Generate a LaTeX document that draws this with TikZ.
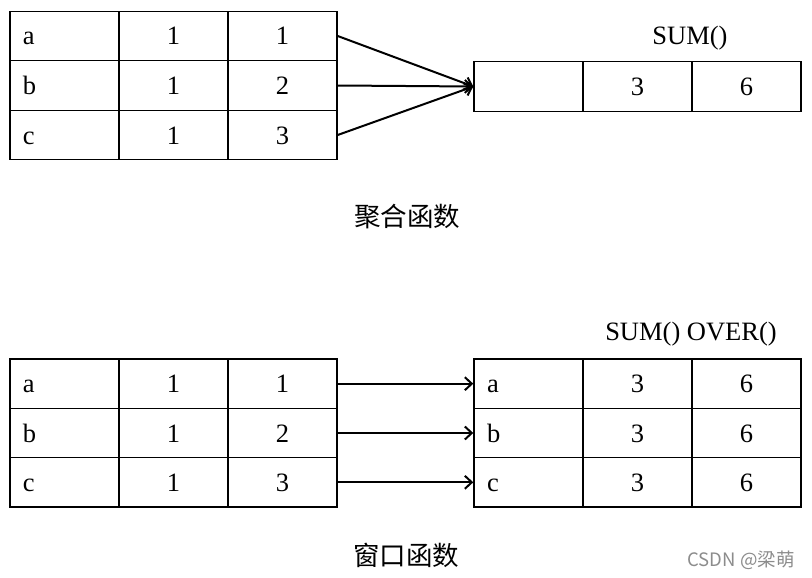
\documentclass[tikz,border=0pt]{standalone}
\usepackage{fontspec}
\setmainfont{Liberation Serif}
\newfontfamily\cjk{Noto Sans CJK SC}
\usetikzlibrary{arrows.meta}
\tikzset{
  cell/.style={draw, line width=1.4pt, minimum width=109pt, minimum height=49.5pt,
    inner sep=0pt, text height=18pt, text depth=0pt, font=\fontsize{26.5}{26.5}\selectfont},
  keycell/.style={cell, text width=83pt, align=left},
  link/.style={line width=2pt, -{Straight Barb[length=7pt,width=13pt,line width=2pt]}},
  headtext/.style={font=\fontsize{26.5}{26.5}\selectfont},
  captiontext/.style={font=\cjk\fontsize{26.5}{26.5}\selectfont},
}
\begin{document}
\begin{tikzpicture}[x=1pt, y=-1pt]
\useasboundingbox (0,0) rectangle (812,578);
% aggregate: SUM()
\foreach \k/\v/\y [count=\r] in {a/1/36, b/2/85.5, c/3/135} {
  \node[keycell] (agg-\r-1) at (64.5,\y) {\k};
  \node[cell] (agg-\r-2) at (173.5,\y) {1};
  \node[cell] (agg-\r-3) at (282.5,\y) {\v};
}
\node[keycell] (sum-1) at (528.5,86.5) {};
\node[cell] (sum-2) at (637.5,86.5) {3};
\node[cell] (sum-3) at (746.5,86.5) {6};
\node[headtext] (sum-head) at (690,38) {SUM()};
\foreach \r in {1,2,3}
  \draw[link] (agg-\r-3.east) -- (sum-1.west);
\node[captiontext] (agg-caption) at (407,217) {聚合函数};
% window: SUM() OVER()
\foreach \k/\v/\y [count=\r] in {a/1/383.7, b/2/433, c/3/482.3} {
  \node[keycell] (win-\r-1) at (64.5,\y) {\k};
  \node[cell] (win-\r-2) at (173.5,\y) {1};
  \node[cell] (win-\r-3) at (282.5,\y) {\v};
  \node[keycell] (over-\r-1) at (528.5,\y) {\k};
  \node[cell] (over-\r-2) at (637.5,\y) {3};
  \node[cell] (over-\r-3) at (746.5,\y) {6};
  \draw[link] (win-\r-3.east) -- (over-\r-1.west);
}
\node[headtext] (over-head) at (691,334) {SUM() OVER()};
\node[captiontext] (win-caption) at (406,555) {窗口函数};
\node[font=\cjk\fontsize{18.5}{18.5}\selectfont, text=black!45] (mark) at (741,560) {CSDN @梁萌};
\end{tikzpicture}
\end{document}
